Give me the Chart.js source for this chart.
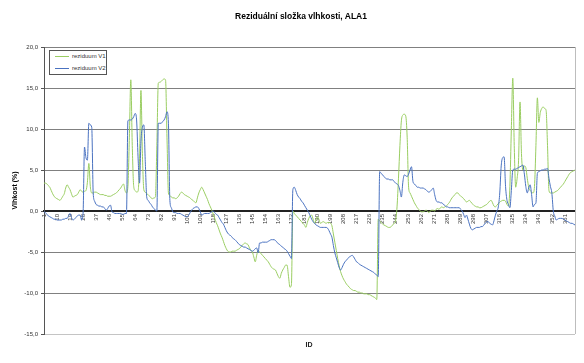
<!DOCTYPE html>
<html><head><meta charset="utf-8">
<script src="https://cdn.jsdelivr.net/npm/chart.js@4.4.1/dist/chart.umd.min.js"></script>
<style>
html,body{margin:0;padding:0;background:#fff;}
#wrap{position:relative;width:584px;height:363px;}
#title{position:absolute;left:151px;width:300px;top:11px;text-align:center;font:bold 8.5px "Liberation Sans",Arial,sans-serif;color:#000;white-space:nowrap;}
#xt{position:absolute;left:259px;width:100px;top:341px;text-align:center;font:bold 7px "Liberation Sans",Arial,sans-serif;color:#222;}
#leg{position:absolute;left:49px;top:50px;width:56px;height:23px;border:1px solid #555;background:#fff;font:6px "Liberation Sans",Arial,sans-serif;color:#333;}
#leg .ln{position:absolute;left:5px;width:14px;height:1px;}
#leg .tx{position:absolute;left:22px;white-space:nowrap;line-height:7px;}
</style>
</head><body>
<div id="wrap">
<canvas id="c" width="584" height="363"></canvas>
<div id="title">Reziduální složka vlhkosti, ALA1</div>
<div id="xt">ID</div>
<div id="leg">
  <div class="ln" style="top:5px;background:#9ACD62"></div><div class="tx" style="top:2px">reziduum V1</div>
  <div class="ln" style="top:17px;background:#4A72C0"></div><div class="tx" style="top:14px">reziduum V2</div>
</div>
</div>
<script>
const seriesNames = ['reziduum V1', 'reziduum V2'];
const tickLabels = ['1','10','19','28','37','46','55','64','73','82','91','100','109','118','127','136','145','154','163','172','181','190','199','208','217','226','235','244','253','262','271','280','289','298','307','316','325','334','343','352','361'];
const yTicks = [-15, -10, -5, 0, 5, 10, 15, 20];

const v1 = [
 3.4, 3.4, 3.3, 3.1, 2.9, 2.5, 2.1, 1.8, 1.6, 1.5,
 1.4, 1.3, 1.5, 1.8, 2.1, 2.8, 3.2, 2.9, 2.6, 2.1,
 1.7, 1.8, 1.9, 2.0, 2.3, 2.6, 2.4, 2.3, 2.4, 2.5,
 3.5, 5.8, 3.0, 2.2, 2.2, 2.3, 2.3, 2.2, 2.1, 2.0,
 2.0, 2.0, 1.9, 1.9, 1.8, 1.8, 1.8, 1.9, 2.0, 2.1,
 2.2, 2.4, 2.6, 2.8, 3.1, 3.3, 2.5, 2.2, 3.0, 9.0,
 16.0, 8.0, 3.0, 2.5, 2.3, 2.4, 6.0, 14.7, 7.0, 2.6,
 2.3, 2.1, 2.0, 1.8, 1.6, 1.5, 1.6, 1.7, 8.0, 15.6,
 15.7, 15.8, 16.0, 16.1, 16.0, 9.0, 2.2, 1.9, 1.7, 1.6,
 1.6, 1.5, 1.6, 1.8, 2.1, 2.3, 2.2, 2.0, 1.9, 1.8,
 1.7, 1.6, 1.4, 1.3, 1.1, 1.0, 1.6, 2.2, 2.6, 2.9,
 2.6, 2.2, 1.8, 1.4, 0.9, 0.5, 0.1, -0.4, -0.9, -1.4,
 -1.8, -2.3, -2.8, -3.2, -3.7, -4.2, -4.6, -4.9, -5.0, -5.0,
 -4.9, -4.9, -4.9, -4.8, -4.7, -4.6, -4.4, -4.2, -4.0, -3.9,
 -4.0, -4.1, -4.5, -4.8, -5.0, -5.6, -6.2, -5.4, -4.8, -5.0,
 -5.2, -5.4, -5.6, -5.8, -6.0, -6.2, -6.5, -6.8, -7.0, -7.1,
 -7.2, -7.6, -8.0, -8.2, -7.6, -7.2, -6.9, -6.6, -6.6, -8.0,
 -9.3, -9.0, 0.0, -0.3, -0.5, -0.7, -0.9, -1.1, -1.3, -1.5,
 -1.7, -2.0, -1.4, -0.9, -0.6, -0.5, -1.0, -1.5, -1.1, -0.7,
 -1.0, -1.5, -1.4, -1.3, -1.4, -1.5, -1.4, -1.4, -1.5, -1.8,
 -2.8, -3.8, -4.8, -5.8, -6.7, -7.4, -7.9, -8.3, -8.6, -8.9,
 -9.1, -9.3, -9.5, -9.6, -9.7, -9.7, -9.8, -9.9, -9.9, -10.0,
 -10.0, -10.1, -10.1, -10.1, -10.2, -10.2, -10.3, -10.4, -10.5, -10.6,
 -10.8, -1.0, -1.2, -1.4, -1.6, -1.7, -1.8, -1.9, -2.0, -2.0,
 -1.9, -1.7, -1.5, -1.2, 0.5, 4.0, 8.0, 11.0, 11.7, 11.8,
 11.6, 9.0, 2.9, 2.2, 1.8, 1.4, 1.0, 0.7, 0.4, 0.2,
 0.0, -0.1, -0.1, 0.0, 0.1, 0.0, -0.2, 0.0, 0.1, 0.1,
 0.0, 0.2, 0.3, 0.2, 0.4, 0.5, 0.4, 0.5, 0.6, 0.8,
 1.0, 1.3, 1.6, 1.8, 2.0, 2.2, 2.2, 2.0, 1.8, 1.7,
 1.5, 1.3, 1.1, 1.2, 1.3, 1.1, 0.9, 0.7, 0.6, 0.5,
 0.5, 0.4, 0.4, 0.5, 0.6, 0.7, 0.8, 1.0, 1.2, 1.3,
 1.0, 0.6, 0.5, 0.7, 0.9, 1.1, 1.2, 1.3, 1.3, 1.2,
 0.8, 0.6, 3.0, 10.0, 16.2, 8.0, 2.9, 4.0, 6.2, 13.3,
 7.0, 5.0, 5.5, 5.3, 4.0, 2.9, 2.5, 2.3, 2.2, 3.0,
 8.0, 13.8, 10.8, 12.0, 12.5, 12.7, 12.5, 12.3, 8.0, 2.5,
 2.2, 2.2, 2.2, 2.3, 2.4, 2.5, 2.7, 2.9, 3.1, 3.3,
 3.6, 3.9, 4.2, 4.5, 4.7, 4.8, 4.9, 5.0
];

const v2 = [
 -0.1, -0.2, -0.4, -0.6, -0.7, -0.8, -0.9, -1.0, -1.0, -1.1,
 -1.1, -1.1, -1.1, -1.0, -1.0, -0.9, -0.9, -0.6, -0.3, -0.8,
 -1.1, -1.0, -0.8, -0.6, -0.5, -0.5, -1.1, -0.3, 7.8, 6.5,
 6.2, 10.7, 10.5, 10.2, 2.2, 1.2, 0.8, 0.7, 0.6, 0.6,
 0.5, 0.5, 0.3, 0.1, 0.3, 0.6, 0.7, -0.1, -0.2, -0.3,
 -0.3, -0.3, -0.3, -0.3, -0.4, -0.4, -0.3, -0.3, 11.0, 11.1,
 11.1, 11.2, 11.5, 11.9, 11.1, 6.6, 3.4, 8.5, 10.2, 10.5,
 6.0, 1.7, 1.3, 1.0, 0.8, 0.5, 0.3, 0.1, 0.0, 10.7,
 10.7, 10.7, 10.9, 11.1, 11.5, 12.1, 10.7, 1.3, 0.4, -0.1,
 -0.2, -0.2, -0.3, -0.3, -0.3, -0.4, -0.5, -0.6, -0.7, -0.7,
 -0.5, -0.2, 0.1, 0.3, 0.4, 0.5, 0.5, 0.3, -0.1, -0.5,
 -0.4, -0.3, -0.3, -0.3, -0.3, -0.2, -0.1, 0.0, -0.2, -0.4,
 -0.5, -0.8, -1.1, -1.4, -1.6, -2.0, -2.4, -2.7, -2.9, -3.0,
 -3.2, -3.4, -3.5, -3.7, -3.9, -4.1, -4.2, -4.3, -4.4, -4.4,
 -4.5, -4.6, -4.7, -4.8, -4.9, -4.8, -4.6, -4.5, -5.1, -3.9,
 -3.9, -3.8, -3.8, -3.8, -3.8, -3.7, -3.6, -3.5, -3.5, -3.5,
 -3.6, -3.8, -4.0, -4.1, -4.3, -4.4, -4.6, -4.7, -4.9, -5.2,
 -5.5, -5.8, 2.6, 2.9, 2.5, 2.0, 1.7, 1.5, 1.2, 1.0,
 0.7, 0.4, 0.1, -0.2, -0.6, -1.0, -1.3, -1.5, -1.7, -1.8,
 -1.9, -2.0, -2.0, -2.0, -2.0, -2.0, -2.1, -2.4, -2.8, -3.2,
 -4.2, -5.1, -5.7, -6.3, -6.9, -7.2, -6.9, -6.5, -6.2, -6.0,
 -5.8, -5.6, -5.5, -5.4, -5.6, -5.9, -6.2, -6.3, -6.5, -6.6,
 -6.7, -6.8, -6.9, -7.0, -7.1, -7.2, -7.3, -7.4, -7.5, -7.7,
 -7.8, -8.0, 4.8, 4.6, 4.4, 4.2, 4.0, 3.9, 3.9, 3.8,
 3.8, 3.8, 3.6, 3.4, 3.3, 3.1, 2.5, 1.7, 3.5, 4.4,
 4.3, 4.2, 4.5, 5.0, 5.4, 3.6, 3.3, 3.1, 2.9, 2.9,
 2.8, 2.8, 2.8, 2.7, 2.6, 2.4, 2.3, 2.4, 2.6, 2.8,
 2.0, 1.3, 1.1, 1.1, 1.0, 1.0, 0.8, 0.7, 0.5, 0.5,
 0.4, 0.4, 0.4, 0.4, 0.4, 0.4, 0.4, 0.4, 0.2, 0.0,
 -0.4, -0.8, -0.5, -1.0, -1.6, -2.1, -2.3, -2.2, -2.1, -2.0,
 -2.0, -2.0, -1.9, -1.9, -1.7, -1.5, -1.3, -1.3, -1.5, -1.6,
 -1.7, -1.2, -0.5, 0.0, 0.5, 2.2, 5.5, 6.5, 6.6, 3.0,
 1.3, 0.8, 0.4, 2.5, 5.0, 5.1, 5.1, 5.2, 5.3, 5.4,
 5.5, 5.6, 4.5, 3.0, 2.2, 2.8, 3.2, 2.0, 0.5, 0.8,
 1.0, 4.6, 4.8, 4.9, 5.0, 5.0, 5.1, 5.1, 5.2, 4.0,
 3.0, 2.2, 0.0, -0.6, -1.1, -1.0, -0.9, -0.9, -0.9, -1.0,
 -1.1, -1.2, -1.3, -1.4, -1.5, -1.5, -1.6, -1.7
];

const ids = v1.map((_, i) => String(i + 1));

const frame = {
  id: 'frame',
  afterDatasetsDraw(chart) {
    const { ctx, chartArea: a } = chart;
    ctx.save();
    ctx.strokeStyle = '#bdbdbd';
    ctx.lineWidth = 1;
    ctx.beginPath();
    ctx.moveTo(Math.round(a.right) + 0.5, a.top);
    ctx.lineTo(Math.round(a.right) + 0.5, a.bottom);
    ctx.stroke();
    ctx.restore();
  }
};

new Chart(document.getElementById('c'), {
  type: 'line',
  data: {
    labels: ids,
    datasets: [
      { label: seriesNames[0], data: v1, borderColor: '#9ACD62', borderWidth: 1, pointRadius: 0, cubicInterpolationMode: 'monotone', order: 2 },
      { label: seriesNames[1], data: v2, borderColor: '#4A72C0', borderWidth: 1, pointRadius: 0, cubicInterpolationMode: 'monotone', order: 1 }
    ]
  },
  options: {
    responsive: false,
    animation: false,
    devicePixelRatio: 1,
    layout: { padding: { top: 47, right: 9, bottom: 29, left: 0 } },
    plugins: { legend: { display: false }, tooltip: { enabled: false }, title: { display: false } },
    scales: {
      x: {
        position: { y: 0 },
        z: 1,
        grid: { display: false, drawTicks: true, tickLength: 3 },
        border: { display: true, color: '#222', width: 2, dash: [2, 1] },
        ticks: {
          autoSkip: false, minRotation: 90, maxRotation: 90, padding: 0,
          font: { size: 6, family: '"Liberation Sans", Arial, sans-serif' }, color: '#333',
          callback: (v, i) => tickLabels.includes(ids[i]) ? ids[i] : ''
        }
      },
      y: {
        min: yTicks[0], max: yTicks[yTicks.length - 1],
        afterFit: s => { s.width = 44; },
        ticks: {
          stepSize: 5, padding: 3,
          font: { size: 6, family: '"Liberation Sans", Arial, sans-serif' }, color: '#333',
          callback: v => v.toFixed(1).replace('.', ',')
        },
        grid: {
          tickLength: 3, tickColor: '#555',
          color: c => c.tick && c.tick.value === 0 ? 'rgba(0,0,0,0)' : (c.tick && c.tick.value === -15 ? '#c4c4c4' : '#808080')
        },
        border: { display: true, color: '#555', width: 1 },
        title: {
          display: true, text: 'Vlhkost (%)', color: '#000',
          font: { size: 7, weight: 'bold', family: '"Liberation Sans", Arial, sans-serif' },
          padding: { top: 11, bottom: 0 }
        }
      }
    }
  },
  plugins: [frame]
});
</script>
</body></html>
